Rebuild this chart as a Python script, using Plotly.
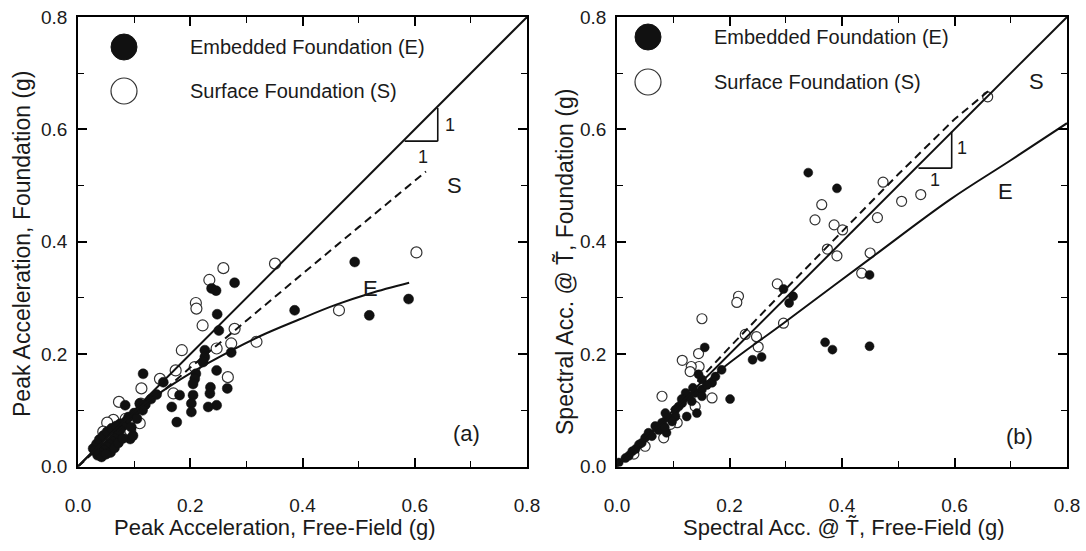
import plotly.graph_objects as go

# ---------------- data ----------------
legend_names = ["Embedded Foundation (E)", "Surface Foundation (S)"]

# Panel (a): peak acceleration
a_E_x = [0.279, 0.238, 0.246, 0.248, 0.251, 0.386, 0.493, 0.589, 0.519, 0.273, 0.226, 0.226, 0.223,
         0.247, 0.210, 0.208, 0.205, 0.236, 0.235, 0.266, 0.205, 0.202, 0.202, 0.181, 0.247, 0.232,
         0.167, 0.176, 0.152, 0.116, 0.110, 0.084, 0.075, 0.093, 0.098,
         0.100, 0.120, 0.130, 0.140, 0.090, 0.085, 0.080, 0.075, 0.070, 0.065, 0.060, 0.055, 0.050,
         0.045, 0.040, 0.035, 0.042, 0.027, 0.033, 0.038, 0.045, 0.052, 0.060, 0.068, 0.058, 0.065,
         0.072, 0.080, 0.050, 0.030, 0.105, 0.095, 0.115]
a_E_y = [0.327, 0.317, 0.313, 0.271, 0.242, 0.278, 0.364, 0.298, 0.269, 0.203, 0.207, 0.195, 0.186,
         0.171, 0.165, 0.156, 0.147, 0.141, 0.130, 0.139, 0.127, 0.112, 0.097, 0.127, 0.109, 0.106,
         0.106, 0.079, 0.150, 0.165, 0.112, 0.109, 0.076, 0.049, 0.055,
         0.095, 0.110, 0.120, 0.128, 0.088, 0.080, 0.072, 0.065, 0.058, 0.050, 0.045, 0.040, 0.035,
         0.030, 0.025, 0.020, 0.017, 0.032, 0.040, 0.048, 0.055, 0.062, 0.068, 0.072, 0.025, 0.033,
         0.042, 0.050, 0.022, 0.028, 0.085, 0.070, 0.100]
a_S_x = [0.259, 0.234, 0.210, 0.211, 0.351, 0.222, 0.279, 0.318, 0.273, 0.247, 0.185, 0.208, 0.174,
         0.267, 0.146, 0.113, 0.170, 0.465, 0.603, 0.110, 0.073, 0.063, 0.093, 0.112, 0.052, 0.045,
         0.085]
a_S_y = [0.353, 0.332, 0.291, 0.281, 0.361, 0.251, 0.245, 0.222, 0.219, 0.210, 0.207, 0.177, 0.171,
         0.159, 0.156, 0.139, 0.130, 0.278, 0.381, 0.077, 0.115, 0.083, 0.064, 0.112, 0.078, 0.062,
         0.085]
a_S_fit_x = [0, 0.1, 0.2, 0.3, 0.4, 0.5, 0.62]
a_S_fit_y = [0, 0.090, 0.176, 0.260, 0.343, 0.426, 0.525]
a_E_fit_x = [0, 0.05, 0.11, 0.17, 0.23, 0.32, 0.395, 0.46, 0.52, 0.59]
a_E_fit_y = [0, 0.050, 0.105, 0.147, 0.183, 0.230, 0.262, 0.288, 0.308, 0.327]

# Panel (b): spectral acceleration
b_E_x = [0.340, 0.391, 0.296, 0.313, 0.306, 0.449, 0.370, 0.383, 0.449, 0.241, 0.257, 0.156, 0.186,
         0.201, 0.151, 0.169, 0.145, 0.124, 0.142, 0.088,
         0.003, 0.015, 0.027, 0.039, 0.050, 0.056, 0.068, 0.080, 0.092, 0.104, 0.116, 0.127, 0.139,
         0.151, 0.151, 0.133, 0.104, 0.074, 0.062, 0.044, 0.033, 0.021, 0.086, 0.110, 0.122, 0.160,
         0.175, 0.098, 0.085, 0.115, 0.135]
b_E_y = [0.523, 0.495, 0.316, 0.303, 0.291, 0.341, 0.221, 0.208, 0.214, 0.190, 0.195, 0.212, 0.172,
         0.120, 0.155, 0.149, 0.164, 0.089, 0.095, 0.060,
         0.007, 0.015, 0.027, 0.039, 0.051, 0.060, 0.072, 0.078, 0.087, 0.101, 0.113, 0.125, 0.131,
         0.137, 0.125, 0.116, 0.089, 0.065, 0.054, 0.042, 0.031, 0.019, 0.095, 0.107, 0.131, 0.145,
         0.160, 0.080, 0.070, 0.120, 0.140]
b_S_x = [0.364, 0.352, 0.386, 0.401, 0.473, 0.506, 0.540, 0.463, 0.374, 0.391, 0.450, 0.435, 0.285,
         0.296, 0.216, 0.213, 0.151, 0.228, 0.248, 0.251, 0.145, 0.146, 0.659, 0.116, 0.132, 0.130,
         0.169, 0.080, 0.107, 0.083, 0.139, 0.050, 0.030, 0.095]
b_S_y = [0.466, 0.439, 0.430, 0.421, 0.506, 0.472, 0.484, 0.443, 0.387, 0.375, 0.380, 0.344, 0.325,
         0.255, 0.303, 0.292, 0.263, 0.235, 0.231, 0.213, 0.201, 0.178, 0.658, 0.189, 0.178, 0.169,
         0.122, 0.125, 0.078, 0.051, 0.107, 0.036, 0.022, 0.075]
b_S_fit_x = [0, 0.1, 0.2, 0.3, 0.4, 0.5, 0.6, 0.66]
b_S_fit_y = [0, 0.105, 0.212, 0.316, 0.418, 0.520, 0.618, 0.668]
b_E_fit_x = [0, 0.1, 0.183, 0.296, 0.45, 0.592, 0.70, 0.8]
b_E_fit_y = [0, 0.095, 0.171, 0.255, 0.370, 0.475, 0.545, 0.611]

unity = [0, 0.8]

tick_vals = [0, 0.2, 0.4, 0.6, 0.8]
tick_text = ["0.0", "0.2", "0.4", "0.6", "0.8"]

# ---------------- figure ----------------
W, H = 1086, 551
FONT = "Liberation Sans, Arial, Helvetica, sans-serif"
INK = "#1a1a1a"


def px(p):
    return p / W


def py(p):
    return (H - p) / H


fig = go.Figure()

panels = [
    ("x", "y", a_E_x, a_E_y, a_S_x, a_S_y, a_S_fit_x, a_S_fit_y, a_E_fit_x, a_E_fit_y, 11),
    ("x2", "y2", b_E_x, b_E_y, b_S_x, b_S_y, b_S_fit_x, b_S_fit_y, b_E_fit_x, b_E_fit_y, 10),
]
for xa, ya, ex, ey, sx, sy, sfx, sfy, efx, efy, msize in panels:
    fig.add_trace(go.Scatter(x=sx, y=sy, mode="markers", xaxis=xa, yaxis=ya, name=legend_names[1],
                             showlegend=False,
                             marker=dict(symbol="circle", size=msize, color="white",
                                         line=dict(color="#333", width=1.2))))
    fig.add_trace(go.Scatter(x=ex, y=ey, mode="markers", xaxis=xa, yaxis=ya, name=legend_names[0],
                             showlegend=False,
                             marker=dict(symbol="circle", size=msize - 1, color="#111",
                                         line=dict(color="#111", width=0.5))))
    fig.add_trace(go.Scatter(x=unity, y=unity, mode="lines", xaxis=xa, yaxis=ya, showlegend=False,
                             line=dict(color="#111", width=2)))
    fig.add_trace(go.Scatter(x=sfx, y=sfy, mode="lines", xaxis=xa, yaxis=ya, showlegend=False,
                             line=dict(color="#111", width=2, dash="8px,5px")))
    fig.add_trace(go.Scatter(x=efx, y=efy, mode="lines", xaxis=xa, yaxis=ya, showlegend=False,
                             line=dict(color="#111", width=2, shape="spline")))

axis_common = dict(
    range=[0, 0.8], tickvals=tick_vals, ticktext=tick_text,
    ticks="inside", ticklen=9, tickwidth=1.5, tickcolor="black",
    minor=dict(ticks="inside", ticklen=6, dtick=0.1, tick0=0, tickwidth=1.2, tickcolor="black"),
    showline=True, linecolor="black", linewidth=1.6, mirror="ticks",
    showgrid=False, zeroline=False, automargin=False, fixedrange=True,
    tickfont=dict(family=FONT, size=19, color=INK),
)
yb = [py(466.5), py(17)]
fig.update_layout(
    width=W, height=H, margin=dict(l=0, r=0, t=0, b=0),
    paper_bgcolor="white", plot_bgcolor="white", showlegend=False,
    xaxis=dict(axis_common, domain=[px(78), px(527)], anchor="y", ticklabelstandoff=21),
    yaxis=dict(axis_common, domain=yb, anchor="x", ticklabelstandoff=5),
    xaxis2=dict(axis_common, domain=[px(617), px(1067)], anchor="y2", ticklabelstandoff=21),
    yaxis2=dict(axis_common, domain=yb, anchor="x2", ticklabelstandoff=5),
)

ann = []
shapes = []

def txt(text, x, y, size, xref="paper", yref="paper", angle=0, xanchor="center"):
    ann.append(dict(text=text, x=x, y=y, xref=xref, yref=yref, showarrow=False, textangle=angle,
                    xanchor=xanchor, yanchor="middle", font=dict(family=FONT, size=size, color=INK)))

# axis titles
txt("Peak Acceleration, Free-Field (g)", px(275), py(527), 22)
txt("Spectral Acc. @ T\u0303, Free-Field (g)", px(843), py(527), 22)
txt("Peak Acceleration, Foundation (g)", px(22), py(244), 23, angle=-90)
txt("Spectral Acc. @ T\u0303, Foundation (g)", px(565), py(262), 23, angle=-90)

# legends (one per panel)
for cx, cy1, cy2, tx in [(124, 47, 91, 188), (648, 37, 82, 712)]:
    shapes.append(dict(type="circle", xref="paper", yref="paper", xsizemode="pixel", ysizemode="pixel",
                       xanchor=px(cx), yanchor=py(cy1), x0=-13, x1=13, y0=-13, y1=13,
                       fillcolor="#111", line=dict(color="#111", width=1)))
    shapes.append(dict(type="circle", xref="paper", yref="paper", xsizemode="pixel", ysizemode="pixel",
                       xanchor=px(cx), yanchor=py(cy2), x0=-13, x1=13, y0=-13, y1=13,
                       fillcolor="white", line=dict(color="#333", width=1.2)))
    txt(legend_names[0], px(tx), py(cy1), 20, xanchor="left")
    txt(legend_names[1], px(tx), py(cy2), 20, xanchor="left")

# slope triangles and curve labels
for xr, yr, vx, vy0, vy1, hx0, lab in [
    ("x", "y", 0.641, 0.579, 0.638, 0.582,
     [("1", 0.662, 0.608, 18), ("1", 0.614, 0.551, 18), ("S", 0.671, 0.501, 22), ("E", 0.521, 0.316, 22),
      ("(a)", 0.692, 0.059, 22)]),
    ("x2", "y2", 0.595, 0.531, 0.596, 0.536,
     [("1", 0.613, 0.567, 18), ("1", 0.565, 0.510, 18), ("S", 0.746, 0.685, 22), ("E", 0.690, 0.489, 22),
      ("(b)", 0.716, 0.053, 22)]),
]:
    shapes.append(dict(type="line", xref=xr, yref=yr, x0=vx, x1=vx, y0=vy0, y1=vy1,
                       line=dict(color="#111", width=1.6)))
    shapes.append(dict(type="line", xref=xr, yref=yr, x0=hx0, x1=vx, y0=vy0, y1=vy0,
                       line=dict(color="#111", width=1.6)))
    for t, x, y, s in lab:
        txt(t, x, y, s, xref=xr, yref=yr)

fig.update_layout(annotations=ann, shapes=shapes)
fig.write_html("out.html", config={"displayModeBar": False},
               post_script="document.body.style.margin='0';")
